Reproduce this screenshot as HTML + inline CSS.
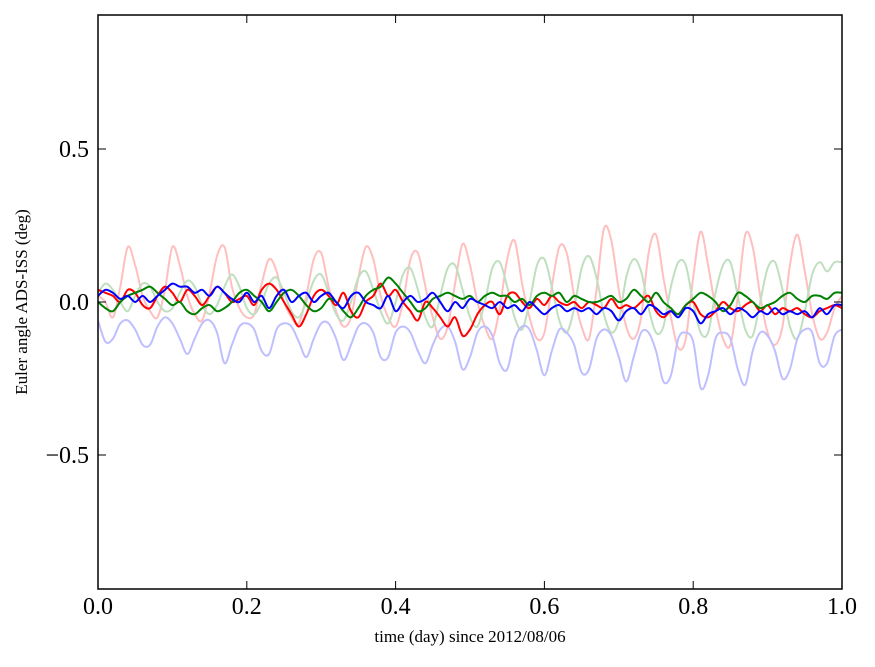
<!DOCTYPE html>
<html><head><meta charset="utf-8"><style>
html,body{margin:0;padding:0;background:#fff;}
svg text{font-family:"Liberation Serif",serif;fill:#000;}
</style></head><body>
<svg id="chart" width="875" height="662" viewBox="0 0 875 662" xmlns="http://www.w3.org/2000/svg">
<rect width="875" height="662" fill="#fff"/>
<defs><clipPath id="clip"><rect x="98" y="15" width="744" height="574"/></clipPath></defs>
<g id="series" clip-path="url(#clip)"></g>
<rect x="98" y="15" width="744" height="574" fill="none" stroke="#000" stroke-width="1.5"/>
<g id="ticks"></g>
<text x="470" y="642" font-size="17" text-anchor="middle">time (day) since 2012/08/06</text>
<text transform="translate(27,302) rotate(-90)" font-size="17" text-anchor="middle">Euler angle ADS-ISS (deg)</text>
</svg>
<script>
const xTicks=[0,0.2,0.4,0.6,0.8,1.0];
const xTickLabels=["0.0","0.2","0.4","0.6","0.8","1.0"];
const yTicks=[0.5,0,-0.5];
const yTickLabels=["0.5","0.0","\u22120.5"];
const timeStep=0.01;
const lightRed=[0.02,0.00,-0.05,0.05,0.18,0.12,0.02,-0.03,-0.05,0.04,0.18,0.12,0.02,-0.04,-0.06,0.03,0.15,0.18,0.05,-0.02,-0.05,-0.04,0.06,0.14,0.10,0.0,-0.05,-0.07,0.02,0.14,0.16,0.05,-0.03,-0.08,-0.05,0.08,0.18,0.14,0.02,-0.05,-0.08,0.0,0.14,0.16,0.05,-0.05,-0.12,-0.08,0.06,0.19,0.12,0.0,-0.08,-0.12,-0.02,0.14,0.20,0.06,-0.05,-0.12,-0.10,0.05,0.18,0.16,0.02,-0.08,-0.12,0.04,0.24,0.20,0.04,-0.08,-0.12,-0.05,0.16,0.22,0.08,-0.05,-0.15,-0.12,0.08,0.23,0.12,-0.02,-0.12,-0.14,0.02,0.22,0.18,0.02,-0.10,-0.14,-0.08,0.12,0.22,0.10,-0.04,-0.12,-0.10,-0.02,0.02];
const lightBlue=[-0.06,-0.13,-0.12,-0.07,-0.06,-0.09,-0.14,-0.14,-0.08,-0.05,-0.07,-0.12,-0.17,-0.12,-0.07,-0.06,-0.10,-0.20,-0.14,-0.08,-0.07,-0.09,-0.16,-0.17,-0.09,-0.07,-0.08,-0.13,-0.18,-0.12,-0.07,-0.07,-0.12,-0.19,-0.14,-0.08,-0.07,-0.10,-0.18,-0.18,-0.10,-0.08,-0.10,-0.16,-0.20,-0.14,-0.09,-0.08,-0.13,-0.22,-0.18,-0.10,-0.08,-0.11,-0.20,-0.22,-0.12,-0.08,-0.09,-0.16,-0.24,-0.16,-0.09,-0.10,-0.14,-0.23,-0.22,-0.12,-0.09,-0.11,-0.18,-0.26,-0.18,-0.10,-0.10,-0.16,-0.26,-0.24,-0.12,-0.10,-0.13,-0.28,-0.24,-0.12,-0.10,-0.12,-0.22,-0.27,-0.16,-0.10,-0.11,-0.16,-0.25,-0.22,-0.12,-0.09,-0.10,-0.20,-0.20,-0.11,-0.09];
const lightGreen=[0.03,0.06,0.04,0.0,-0.03,0.02,0.06,0.05,0.0,-0.03,-0.02,0.03,0.07,0.05,-0.01,-0.04,-0.01,0.05,0.09,0.05,-0.02,-0.04,0.0,0.06,0.08,0.03,-0.03,-0.05,0.0,0.07,0.09,0.03,-0.04,-0.06,0.0,0.08,0.10,0.04,-0.03,-0.07,0.0,0.09,0.11,0.04,-0.05,-0.08,0.02,0.11,0.12,0.04,-0.05,-0.08,0.0,0.11,0.13,0.05,-0.05,-0.09,0.0,0.12,0.14,0.05,-0.06,-0.10,-0.02,0.11,0.15,0.08,-0.04,-0.10,-0.06,0.08,0.14,0.10,-0.02,-0.10,-0.08,0.05,0.13,0.12,0.0,-0.10,-0.10,0.03,0.12,0.13,0.02,-0.09,-0.11,0.0,0.11,0.13,0.04,-0.08,-0.12,-0.03,0.09,0.13,0.10,0.13,0.13];
const darkRed=[0.04,0.03,0.02,0.0,0.04,0.03,-0.01,-0.02,0.02,0.05,0.03,0.0,0.04,0.02,-0.01,0.02,0.05,0.03,0.0,0.01,0.02,-0.01,0.04,0.06,0.04,0.0,-0.04,-0.08,-0.04,0.02,0.04,0.02,-0.01,0.03,-0.03,-0.05,0.0,0.02,0.06,0.02,0.04,0.0,-0.03,-0.06,0.0,-0.02,-0.05,-0.08,-0.05,-0.11,-0.09,-0.04,-0.01,0.0,-0.04,0.02,0.03,0.0,-0.02,0.01,-0.01,0.02,0.0,-0.01,0.0,-0.02,0.0,-0.01,-0.02,0.01,-0.02,-0.01,-0.02,0.0,0.02,-0.03,-0.05,-0.03,-0.04,-0.01,0.0,-0.04,-0.05,-0.03,0.0,-0.02,-0.03,-0.01,0.0,-0.03,-0.01,-0.04,-0.02,-0.03,-0.02,-0.04,-0.05,-0.03,-0.02,-0.01,-0.02];
const darkGreen=[0.0,-0.02,-0.03,0.0,0.02,0.03,0.04,0.05,0.03,0.01,-0.01,0.0,-0.03,-0.04,-0.02,-0.01,-0.03,-0.02,0.0,0.03,0.04,0.02,0.0,-0.03,0.0,0.03,0.04,0.02,-0.01,-0.03,-0.02,0.01,0.0,-0.03,-0.05,-0.02,0.02,0.04,0.05,0.08,0.06,0.03,0.0,-0.03,-0.02,0.01,0.02,0.03,0.02,0.01,0.02,0.0,0.02,0.03,0.02,0.02,0.0,0.01,-0.01,0.02,0.03,0.02,0.03,0.0,0.02,0.01,0.0,0.0,0.01,0.02,0.0,0.01,0.04,0.02,0.0,0.03,0.0,-0.02,-0.04,-0.01,0.01,0.03,0.02,0.0,-0.03,-0.01,0.03,0.02,0.0,-0.02,-0.01,0.0,0.02,0.03,0.01,0.0,0.02,0.02,0.01,0.03,0.03];
const darkBlue=[0.02,0.04,0.03,0.01,0.02,0.0,0.02,0.0,0.02,0.04,0.06,0.05,0.05,0.03,0.04,0.02,0.05,0.03,0.01,0.0,0.03,0.0,0.02,-0.02,0.02,0.04,0.0,0.02,0.03,0.0,0.02,0.03,0.0,-0.02,0.02,0.03,0.0,-0.01,-0.02,0.02,-0.03,0.0,0.02,0.0,0.01,0.03,0.0,-0.03,0.0,-0.02,0.01,0.0,-0.01,-0.02,0.0,-0.02,-0.01,-0.03,0.0,-0.02,-0.04,-0.02,-0.01,-0.03,-0.02,-0.03,-0.02,-0.04,-0.02,-0.03,-0.06,-0.03,-0.02,-0.04,-0.01,-0.02,-0.04,-0.03,-0.05,-0.02,-0.03,-0.07,-0.04,-0.03,-0.02,-0.04,-0.02,-0.03,-0.05,-0.03,-0.04,-0.02,-0.04,-0.03,-0.04,-0.03,-0.05,-0.02,-0.04,-0.01,-0.01];

const NS="http://www.w3.org/2000/svg";
const X0=98,X1=842,Y0=302,YS=306;
function xs(v){return X0+(X1-X0)*v;}
function ys(v){return Y0-YS*v;}
const sg=document.getElementById('series');
function smoothPath(arr){
  const pts=arr.map((v,i)=>[xs(i*timeStep),ys(v)]);
  let d='M'+pts[0][0].toFixed(1)+','+pts[0][1].toFixed(1);
  for(let i=0;i<pts.length-1;i++){
    const p0=pts[Math.max(0,i-1)],p1=pts[i],p2=pts[i+1],p3=pts[Math.min(pts.length-1,i+2)];
    const c1=[p1[0]+(p2[0]-p0[0])/6,p1[1]+(p2[1]-p0[1])/6];
    const c2=[p2[0]-(p3[0]-p1[0])/6,p2[1]-(p3[1]-p1[1])/6];
    d+=' C'+c1[0].toFixed(1)+','+c1[1].toFixed(1)+' '+c2[0].toFixed(1)+','+c2[1].toFixed(1)+' '+p2[0].toFixed(1)+','+p2[1].toFixed(1);
  }
  return d;
}
function drawLine(arr,color,name){
  const p=document.createElementNS(NS,'path');
  p.setAttribute('d',smoothPath(arr));
  p.setAttribute('fill','none');p.setAttribute('stroke',color);p.setAttribute('stroke-width','2');
  p.setAttribute('stroke-linejoin','round');
  
  
  sg.appendChild(p);
}
drawLine(lightRed,'#ffbfbf','light-red-series');
drawLine(lightGreen,'#bfdfbf','light-green-series');
drawLine(lightBlue,'#bfbfff','light-blue-series');
drawLine(darkRed,'#ff0000','red-series');
drawLine(darkGreen,'#008000','green-series');
drawLine(darkBlue,'#0000ff','blue-series');

const tg=document.getElementById('ticks');
function ln(x1,y1,x2,y2){const l=document.createElementNS(NS,'line');
  l.setAttribute('x1',x1);l.setAttribute('y1',y1);l.setAttribute('x2',x2);l.setAttribute('y2',y2);
  l.setAttribute('stroke','#000');l.setAttribute('stroke-width','1');
  
  
  tg.appendChild(l);}
function tx(x,y,s,anchor,name){const t=document.createElementNS(NS,'text');
  t.setAttribute('x',x);t.setAttribute('y',y);t.setAttribute('font-size','24');t.setAttribute('text-anchor',anchor);
  t.textContent=s;
  
  
  tg.appendChild(t);}
xTicks.forEach((v,i)=>{const x=xs(v);ln(x,589,x,581);ln(x,15,x,23);tx(x,614,xTickLabels[i],'middle','x-tick-label');});
yTicks.forEach((v,i)=>{const y=ys(v);ln(98,y,106,y);ln(842,y,834,y);tx(89,y+8,yTickLabels[i],'end','y-tick-label');});
</script>
</body></html>
